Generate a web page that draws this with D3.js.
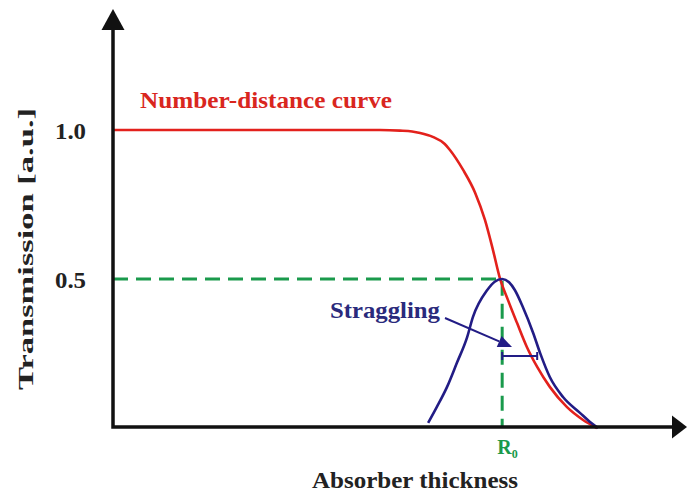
<!DOCTYPE html>
<html>
<head>
<meta charset="utf-8">
<script src="https://cdn.jsdelivr.net/npm/d3@7"></script>
<style>
  html, body { margin: 0; padding: 0; background: #fff; }
  svg { display: block; }
  text { font-family: "Liberation Serif", "Times New Roman", serif; font-weight: bold; }
</style>
</head>
<body>
<script>
// ---- Data (absorber thickness in arbitrary units, transmission in a.u.) ----
const redX = [0, 4.65, 5.00, 5.21, 5.35, 5.57, 5.78, 5.87, 6.10, 6.31, 6.48, 6.62, 6.74, 6.88, 7.04, 7.21, 7.39, 7.61, 7.91, 8.19, 8.43];
const redY = [1.0, 1.0, 0.998, 0.995, 0.99, 0.977, 0.953, 0.933, 0.866, 0.789, 0.698, 0.597, 0.503, 0.430, 0.352, 0.272, 0.205, 0.138, 0.070, 0.027, 0.0];

const blueX = [5.49, 5.64, 5.82, 5.99, 6.17, 6.27, 6.52, 6.65, 6.78, 6.90, 7.00, 7.14, 7.32, 7.44, 7.61, 7.84, 8.14, 8.30, 8.45];
const blueY = [0.017, 0.070, 0.138, 0.218, 0.305, 0.372, 0.463, 0.491, 0.5, 0.489, 0.463, 0.406, 0.319, 0.252, 0.171, 0.104, 0.050, 0.022, 0.0];

const yTickValues = [0.5, 1.0];
const yTickLabels = ["0.5", "1.0"];
const R0 = 6.78;
const halfLevel = 0.5;
const stragglingEnd = 7.39;   // right end of straggling width bar
const stragglingLevel = 0.242;

const W = 687, H = 492;
const x = d3.scaleLinear().domain([0, 10]).range([113, 687]);
const y = d3.scaleLinear().domain([0, 1]).range([428, 130]);

const RED = "#e3211c", BLUE = "#221c85", GREEN = "#1a9a4c";

const svg = d3.select("body").append("svg").attr("width", W).attr("height", H);

// dashed guides
svg.append("path")
  .attr("d", `M${x(0)},${y(halfLevel)}H${x(R0)}V${427}`)
  .attr("fill", "none").attr("stroke", GREEN).attr("stroke-width", 3)
  .attr("stroke-dasharray", "15,8");

// red curve
const redData = redX.map((d, i) => [d, redY[i]]);
svg.append("path")
  .attr("d", d3.line().x(d => x(d[0])).y(d => y(d[1])).curve(d3.curveMonotoneX)(redData))
  .attr("fill", "none").attr("stroke", RED).attr("stroke-width", 2.6);

// blue curve
const blueData = blueX.map((d, i) => [d, blueY[i]]);
svg.append("path")
  .attr("d", d3.line().x(d => x(d[0])).y(d => y(d[1])).curve(d3.curveMonotoneX)(blueData))
  .attr("fill", "none").attr("stroke", BLUE).attr("stroke-width", 2.6);

// axes
const axisY0 = 427;
svg.append("path")
  .attr("d", `M${x(0)},30V${axisY0}H673`)
  .attr("fill", "none").attr("stroke", "#111").attr("stroke-width", 3.5);
svg.append("path").attr("d", `M${x(0)},9L${x(0) - 11.5},30L${x(0) + 11.5},30Z`).attr("fill", "#111");
svg.append("path").attr("d", `M687,${axisY0}L672,${axisY0 - 11.5}L672,${axisY0 + 11.5}Z`).attr("fill", "#111");

// y tick labels
svg.selectAll("text.ytick").data(yTickValues).enter().append("text")
  .attr("class", "ytick")
  .attr("x", 86).attr("y", d => y(d) + 8.5)
  .attr("text-anchor", "end").attr("font-size", 24).attr("fill", "#222")
  .attr("textLength", 31).attr("lengthAdjust", "spacingAndGlyphs")
  .text((d, i) => yTickLabels[i]);

// axis titles
svg.append("text")
  .attr("transform", "translate(33,249) rotate(-90)")
  .attr("text-anchor", "middle").attr("font-size", 22).attr("fill", "#222")
  .attr("textLength", 282).attr("lengthAdjust", "spacingAndGlyphs")
  .text("Transmission [a.u.]");
svg.append("text")
  .attr("x", 415).attr("y", 488)
  .attr("text-anchor", "middle").attr("font-size", 23).attr("fill", "#222")
  .attr("textLength", 206).attr("lengthAdjust", "spacingAndGlyphs")
  .text("Absorber thickness");

// curve label
svg.append("text")
  .attr("x", 140).attr("y", 108)
  .attr("font-size", 23).attr("fill", "#d9261e")
  .attr("textLength", 252).attr("lengthAdjust", "spacingAndGlyphs")
  .text("Number-distance curve");

// R0
const r0 = svg.append("text").attr("x", x(R0) - 5).attr("y", 454)
  .attr("font-size", 20).attr("fill", GREEN);
r0.append("tspan").text("R");
r0.append("tspan").attr("font-size", 12).attr("dy", 4).text("0");

// Straggling label and arrow
svg.append("text")
  .attr("x", 330).attr("y", 318)
  .attr("font-size", 23).attr("fill", "#2a2a7c")
  .attr("textLength", 110).attr("lengthAdjust", "spacingAndGlyphs")
  .text("Straggling");

const ax0 = 445, ay0 = 318, ax1 = 512, ay1 = 347;
const ang = Math.atan2(ay1 - ay0, ax1 - ax0);
const hl = 14, hw = 6;
const bx = ax1 - hl * Math.cos(ang), by = ay1 - hl * Math.sin(ang);
svg.append("line")
  .attr("x1", ax0).attr("y1", ay0).attr("x2", bx).attr("y2", by)
  .attr("stroke", BLUE).attr("stroke-width", 2);
svg.append("path")
  .attr("d", `M${ax1},${ay1}L${bx - hw * Math.sin(ang)},${by + hw * Math.cos(ang)}L${bx + hw * Math.sin(ang)},${by - hw * Math.cos(ang)}Z`)
  .attr("fill", BLUE);

// straggling width bar
const sy = y(stragglingLevel);
svg.append("path")
  .attr("d", `M${x(R0)},${sy}H${x(stragglingEnd)}M${x(R0)},${sy - 4}V${sy + 4}M${x(stragglingEnd)},${sy - 4}V${sy + 4}`)
  .attr("fill", "none").attr("stroke", BLUE).attr("stroke-width", 2);
</script>
</body>
</html>
